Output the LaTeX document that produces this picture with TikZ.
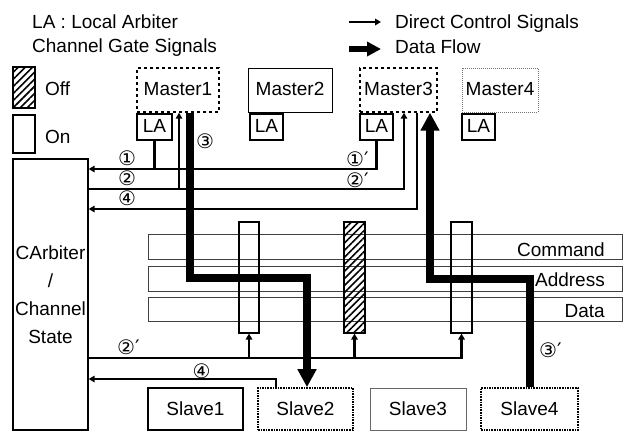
\documentclass[tikz,border=0pt]{standalone}
\usepackage{fontspec}
\setmainfont{Liberation Sans}
\newfontfamily\circfont{DejaVu Sans}
\usetikzlibrary{arrows.meta,patterns.meta}
\begin{document}
\begin{tikzpicture}[x=1pt,y=-1pt,
  txt/.style={font=\fontsize{19}{22}\selectfont, inner sep=0pt},
  cnum/.style={font=\circfont\fontsize{20}{22}\selectfont, inner sep=0pt},
  unit/.style={minimum height=44pt, inner sep=0pt, font=\fontsize{19}{22}\selectfont, text height=14pt, text depth=3pt},
  slave/.style={minimum height=42pt, inner sep=0pt, font=\fontsize{19}{22}\selectfont, text height=13pt, text depth=0pt},
  labox/.style={draw, line width=1.2pt, minimum height=26pt, inner sep=0pt, font=\fontsize{19}{22}\selectfont, text height=13pt, text depth=2pt},
  band/.style={draw=black!75, line width=0.9pt, minimum width=474pt, inner sep=0pt},
  gateon/.style={draw, line width=1.1pt, minimum height=111pt, inner sep=0pt},
  hatch/.style={pattern={Lines[angle=45,distance=5pt,line width=1.6pt]}},
  ctlline/.style={line width=2.2pt},
  ctlarr/.style={line width=2.2pt, -{Triangle[length=6pt,width=6.5pt]}},
  data/.style={line width=7.5pt, -{Triangle[length=18pt,width=18pt]}},
]
\useasboundingbox (0,0) rectangle (628,432);

% legend
\node[txt, anchor=base west] (t1) at (32,28) {LA : Local Arbiter};
\node[txt, anchor=base west] (t2) at (32,52) {Channel Gate Signals};
\node[txt, anchor=base west] (t3) at (395,28) {Direct Control Signals};
\node[txt, anchor=base west] (t4) at (395,53) {Data Flow};
\coordinate (a1) at (349,22);
\coordinate (a2) at (349,49);
\draw[ctlarr] (a1) -- ++(32,0);
\draw[line width=6pt, -{Triangle[length=14pt,width=14pt]}] (a2) -- ++(32,0);

\node[draw, line width=1.2pt, minimum width=22pt, minimum height=41pt, inner sep=0pt, hatch] (off) at (24,87.5) {};
\node[txt, anchor=base west] (offt) at (45,95) {Off};
\node[draw, line width=1.2pt, minimum width=22pt, minimum height=38pt, inner sep=0pt] (on) at (24,134) {};
\node[txt, anchor=base west] (ont) at (45,143) {On};

% masters
\node[unit, draw, dashed, line width=1.4pt, minimum width=82pt] (m1) at (178,90) {Master1};
\node[unit, draw, line width=1pt, minimum width=84pt] (m2) at (290,90) {Master2};
\node[unit, draw, dashed, line width=1.4pt, minimum width=77pt] (m3) at (398.5,90) {Master3};
\node[unit, draw=black!55, densely dotted, line width=1pt, minimum width=76pt] (m4) at (500,90) {Master4};

\node[labox, minimum width=35pt] (la1) at (154.5,127) {LA};
\node[labox, minimum width=33pt] (la2) at (266.5,127) {LA};
\node[labox, minimum width=33pt] (la3) at (376.5,127) {LA};
\node[labox, minimum width=33pt] (la4) at (478.5,127) {LA};

% central arbiter
\node[draw, line width=1.3pt, minimum width=75pt, minimum height=271pt, inner sep=0pt, align=center,
      font=\fontsize{19}{28}\selectfont] (ca) at (50.5,294.5) {CArbiter\\/\\Channel\\State};

% bands
\node[band, minimum height=25pt] (cmd) at (385,246.5) {};
\node[band, minimum height=25pt] (adr) at (385,278.5) {};
\node[band, minimum height=24pt] (dat) at (385,309) {};
\node[txt, anchor=base east] (cmdt) at (605,256) {Command};
\node[txt, anchor=base east] (adrt) at (605,286) {Address};
\node[txt, anchor=base east] (datt) at (605,317) {Data};

% gates
\node[gateon, minimum width=20pt] (g1) at (249,277.5) {};
\node[gateon, minimum width=21pt, fill=white, hatch] (g2) at (354.5,277.5) {};
\node[gateon, minimum width=21pt] (g3) at (461.5,277.5) {};

% slaves
\node[slave, draw, line width=1.2pt, minimum width=95pt] (s1) at (195.5,409) {Slave1};
\node[slave, draw, densely dotted, line width=1.6pt, minimum width=95pt] (s2) at (305.5,409) {Slave2};
\node[slave, draw=black!60, line width=0.8pt, minimum width=96pt] (s3) at (418,409) {Slave3};
\node[slave, draw, densely dotted, line width=1.6pt, minimum width=97pt] (s4) at (529.5,409) {Slave4};

% levels
\coordinate (y1) at (0,169);
\coordinate (y2) at (0,189);
\coordinate (y4) at (0,209);
\coordinate (y5) at (0,358);
\coordinate (y6) at (0,379);
\coordinate (yd) at (0,278);
\coordinate (yd2) at (0,279);

\coordinate (m1c) at ([xshift=1pt]m1.south);
\coordinate (m1d) at ([xshift=12pt]m1.south);
\coordinate (m3b) at ([xshift=5.5pt]m3.south);
\coordinate (m3c) at ([xshift=18.5pt]m3.south);
\coordinate (m3d) at ([xshift=31.5pt]m3.south);
\coordinate (s2a) at ([xshift=-29.5pt]s2.north);
\coordinate (s2b) at ([xshift=1.5pt]s2.north);
\coordinate (s4a) at ([xshift=0.5pt]s4.north);

% control signals
\draw[ctlarr] (la3.south) |- (ca.east |- y1);
\draw[ctlline] (la1.south) -- (la1.south |- y1);
\draw[ctlarr] (ca.east |- y2) -| (m3b);
\draw[ctlarr] (m1c |- y2) -- (m1c);
\draw[ctlarr] (m3c) |- (ca.east |- y4);
\draw[ctlarr] (ca.east |- y5) -| (g3.south);
\draw[ctlarr] (g1.south |- y5) -- (g1.south);
\draw[ctlarr] (g2.south |- y5) -- (g2.south);
\draw[ctlarr] (s2a) |- (ca.east |- y6);

% data flow
\draw[data] (m1d) |- (s2b |- yd) -- (s2b);
\draw[data] (s4a) |- (m3d |- yd2) -- (m3d);

% labels
\node[cnum] (n1) at (127,158) {①};
\node[cnum] (n2) at (127,178) {②};
\node[cnum] (n4) at (127,198) {④};
\node[cnum] (n3) at (205,141) {③};
\node[cnum, anchor=west] (n1p) at (346,159) {①′};
\node[cnum, anchor=west] (n2p) at (346,180) {②′};
\node[cnum, anchor=west] (n2pb) at (117,347) {②′};
\node[cnum] (n4b) at (201.5,371) {④};
\node[cnum, anchor=west] (n3p) at (539,350) {③′};
\end{tikzpicture}
\end{document}
